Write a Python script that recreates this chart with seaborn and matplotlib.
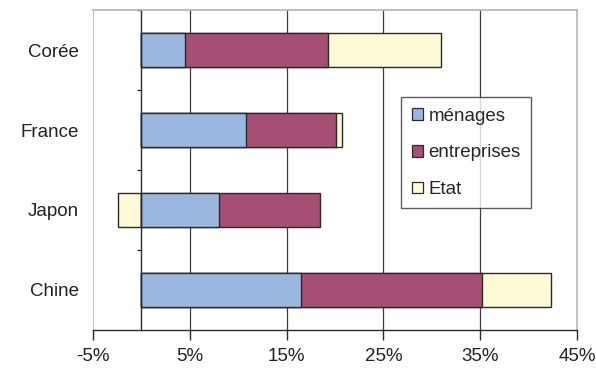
import matplotlib
matplotlib.use("Agg")
import matplotlib.pyplot as plt
import matplotlib.patches as mpatches
import numpy as np
import pandas as pd
import seaborn as sns

countries = ["Corée", "France", "Japon", "Chine"]
menages = [4.5, 10.8, 8.0, 16.5]
entreprises = [14.8, 9.3, 10.5, 18.7]
etat = [11.7, 0.6, -2.4, 7.1]
series_names = ["ménages", "entreprises", "Etat"]
x_ticks = [-5, 5, 15, 25, 35, 45]
x_tick_labels = ["-5%", "5%", "15%", "25%", "35%", "45%"]

COLORS = {"ménages": "#9ab7df", "entreprises": "#a44f73", "Etat": "#fffbd6"}
EDGE = "#2a2a2a"
FRAME = "#b4b4b4"
FS = 13.5

sns.set_theme(style="white")
plt.rcParams["font.family"] = ["Liberation Sans", "DejaVu Sans"]

df = pd.DataFrame({"pays": countries, "ménages": menages,
                   "entreprises": entreprises, "Etat": etat})
# cumulative ends, layered from longest to shortest; negative values start at 0
df["cum_m"] = df["ménages"]
df["cum_e"] = df["ménages"] + df["entreprises"]
df["cum_s"] = np.where(df["Etat"] > 0, df["cum_e"] + df["Etat"], df["Etat"])

fig = plt.figure(figsize=(5.96, 3.72), dpi=100)
ax = fig.add_axes([0.156, 0.113, 0.812, 0.86])

for xv in x_ticks[1:-1]:
    ax.axvline(xv, color="#3c3c3c", lw=0.9, zorder=0)
ax.axvline(x_ticks[0], color=FRAME, lw=1.2, zorder=0)

bw = 0.42
for col, name in [("cum_s", "Etat"), ("cum_e", "entreprises"), ("cum_m", "ménages")]:
    sns.barplot(data=df, x=col, y="pays", orient="h", color=COLORS[name],
                saturation=1, width=bw, edgecolor=EDGE, linewidth=1.0, ax=ax,
                order=countries)

ax.set_xlim(x_ticks[0], x_ticks[-1])
ax.set_ylim(len(countries) - 0.5, -0.5)
ax.set_xticks(x_ticks)
ax.set_xticklabels(x_tick_labels, fontsize=FS, color="#222222")
ax.set_xlabel("")
ax.set_ylabel("")

ax.spines["left"].set_position(("data", 0))
ax.spines["left"].set_color(EDGE)
ax.spines["left"].set_linewidth(1.0)
ax.spines["bottom"].set_color(EDGE)
ax.spines["bottom"].set_linewidth(1.0)
for s in ["top", "right"]:
    ax.spines[s].set_color(FRAME)
    ax.spines[s].set_linewidth(1.2)

ax.set_yticks(range(len(countries)))
ax.set_yticklabels(countries, fontsize=FS, color="#222222")
ax.set_yticks(np.arange(-0.5, len(countries) - 0.5, 1.0), minor=True)
ax.tick_params(axis="y", which="major", length=0, pad=45)
ax.tick_params(axis="y", which="minor", length=3, width=1, color=EDGE, direction="out", left=True)
ax.tick_params(axis="x", which="major", length=7, width=1, color=EDGE, direction="out",
               bottom=True, pad=6)

handles = [mpatches.Patch(facecolor=COLORS[n], edgecolor=EDGE, linewidth=0.9, label=n)
           for n in series_names]
leg = ax.legend(handles=handles, loc="upper left", bbox_to_anchor=(0.637, 0.727),
                fontsize=FS, frameon=True, fancybox=False, labelspacing=1.05,
                handlelength=0.6, handleheight=0.6, handletextpad=0.3,
                borderpad=0.55, borderaxespad=0)
leg.get_frame().set_edgecolor("#333333")
leg.get_frame().set_linewidth(1.0)

fig.savefig("out.png", dpi=100)
